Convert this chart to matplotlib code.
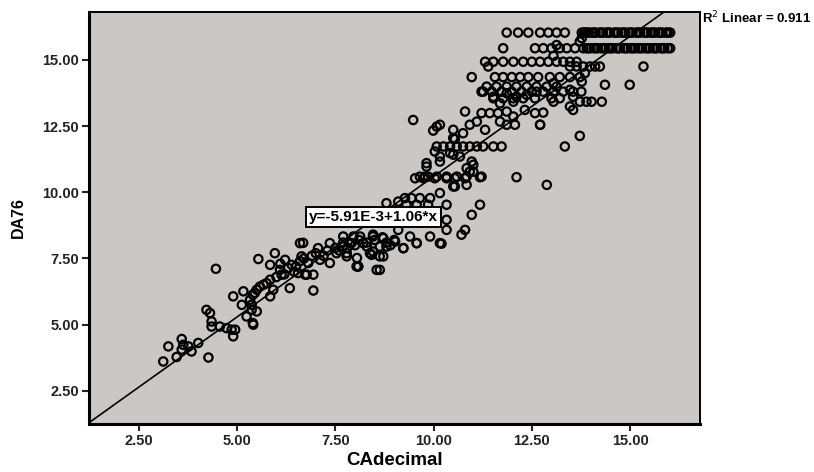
import numpy as np
import matplotlib
matplotlib.use("Agg")
import matplotlib.pyplot as plt

plt.rcParams['font.family'] = ['Liberation Sans', 'DejaVu Sans']

# CAdecimal values (x) and DA76 values (y)
lower_x = [3.12, 3.25, 3.46, 3.59, 3.63, 3.59, 3.76, 3.84, 4.01, 4.27, 4.22, 4.31, 4.35, 4.35,
           4.56, 4.73, 4.86, 4.95, 4.90, 4.90, 5.16, 5.12, 5.33, 5.24, 5.41, 5.37, 5.45, 4.46]
lower_y = [3.61, 4.18, 3.78, 4.46, 4.24, 4.06, 4.18, 3.99, 4.31, 3.76, 5.56, 5.44, 5.12, 4.93,
           4.93, 4.87, 4.81, 4.81, 4.56, 6.07, 6.26, 5.75, 5.94, 5.31, 5.00, 5.56, 6.20, 7.11]

mid_x = [5.40, 5.54, 5.84, 5.96, 6.09, 6.22, 6.13, 6.30, 6.39, 6.60, 6.64, 6.73, 6.94, 6.81,
         6.94, 6.34, 5.84, 5.67, 5.50, 5.92, 5.84, 5.37, 5.50, 5.40, 7.06, 7.11, 7.36, 7.36,
         7.53, 7.70, 7.79, 7.91, 8.04, 7.96, 8.21, 8.38, 8.46, 8.55, 8.63, 5.58, 5.75, 6.68,
         6.77, 8.08, 9.57, 10.20, 9.23, 8.42, 8.63,
         6.50, 6.60, 6.70, 6.90, 7.00, 7.20, 7.30, 7.50, 7.60, 7.70, 7.80, 8.00, 8.10, 8.30,
         8.50, 8.70, 8.80, 8.90, 9.00, 6.45, 6.55, 6.20, 6.00, 6.10]
mid_y = [6.13, 7.48, 7.26, 7.70, 7.07, 7.45, 6.89, 7.14, 7.26, 8.08, 7.58, 6.89, 6.89, 7.33,
         6.29, 6.38, 6.70, 6.51, 6.32, 6.32, 6.07, 5.75, 5.50, 5.06, 7.89, 7.45, 8.08, 7.33,
         7.70, 7.95, 7.58, 8.08, 7.20, 8.33, 8.08, 7.70, 8.40, 7.07, 7.95, 6.44, 6.57, 8.09,
         6.89, 7.20, 8.08, 8.06, 7.89, 7.64, 7.58,
         7.20, 7.40, 7.50, 7.60, 7.70, 7.60, 7.80, 7.90, 7.80, 8.10, 7.90, 8.00, 8.20, 8.10,
         8.20, 8.30, 8.10, 8.00, 8.20, 7.00, 6.95, 6.90, 6.80, 7.30]

upper_x = [9.65, 9.86, 10.08, 10.33, 10.59, 10.84, 11.01, 11.22, 10.54, 10.84, 10.16,
           8.80, 9.10, 9.27, 9.44, 9.65, 9.91, 9.31, 9.57, 9.86, 10.33, 11.18, 10.97, 10.33,
           10.33, 10.80, 10.71, 9.10, 9.40, 9.57, 9.91, 10.16, 9.02, 9.23, 8.72, 8.80, 8.46,
           8.13, 7.87, 8.30, 8.46, 8.72, 8.05, 8.08, 8.63, 7.79, 7.70, 9.00, 9.30,
           9.48, 9.99, 10.16, 10.50, 10.80, 10.75, 10.54, 10.92, 11.10, 11.31, 11.22, 11.43,
           11.64, 11.86, 12.03, 11.69, 11.86, 12.07, 12.32, 12.58, 12.79, 12.71, 13.05, 11.26,
           11.52, 11.86, 12.11, 12.37, 12.62,
           10.08, 10.25, 10.42, 10.59, 10.75, 10.92, 11.10, 11.26, 11.52, 11.73,
           10.16, 10.16, 10.42, 10.67, 10.97, 9.82, 10.84, 10.92, 11.18,
           9.53, 9.74, 10.03, 10.33, 10.54, 10.80, 10.50, 12.11, 12.88,
           9.82, 10.08, 10.50, 10.03, 11.01, 9.78, 10.50]
upper_y = [10.59, 10.59, 10.59, 10.59, 10.59, 10.59, 10.78, 10.59, 10.22, 10.28, 9.97,
           9.59, 9.65, 9.78, 9.78, 9.78, 9.78, 9.53, 9.53, 9.53, 9.53, 9.53, 9.15, 8.96,
           8.58, 8.58, 8.40, 8.58, 8.33, 8.08, 8.33, 8.08, 8.14, 7.89, 8.27, 7.95, 8.33,
           8.33, 8.08, 7.95, 7.76, 7.58, 7.52, 7.20, 7.07, 7.70, 8.33, 9.20, 9.10,
           12.73, 12.33, 12.55, 12.36, 13.05, 12.23, 12.01, 12.55, 12.67, 12.36, 12.99, 12.99,
           12.99, 13.05, 12.86, 12.67, 12.55, 12.55, 13.11, 12.99, 13.01, 12.55, 13.42, 13.80,
           13.61, 13.74, 13.61, 13.68, 13.80,
           11.73, 11.73, 11.73, 11.73, 11.73, 11.73, 11.73, 11.73, 11.73, 11.73,
           11.35, 11.16, 11.48, 11.35, 11.16, 10.97, 10.91, 10.78, 10.57,
           10.53, 10.53, 10.53, 10.53, 10.53, 10.53, 10.22, 10.57, 10.28,
           11.10, 12.48, 12.05, 11.54, 11.04, 10.59, 11.42]

top_x = [11.86, 12.15, 12.41, 12.71, 12.92, 13.13, 13.34,
         11.77, 12.58, 12.79, 13.00, 13.21, 13.39, 13.60, 13.81, 13.13, 13.05,
         11.31, 11.52, 11.77, 12.03, 12.28, 12.50, 12.71, 12.92, 13.13, 13.30, 13.47, 13.64,
         11.39, 10.97,
         11.56, 11.77, 11.99, 12.20, 12.41, 12.66, 12.96, 13.21, 13.47, 13.72,
         11.35, 11.60, 11.86, 12.11, 12.37, 12.62, 12.88, 13.13,
         11.22, 11.48, 11.73, 11.99, 12.24, 12.50, 12.79, 13.05, 13.30, 13.55, 13.76,
         13.05, 11.52, 11.77, 12.03, 12.28, 12.58, 13.00, 13.21, 11.69, 12.03]
top_y = [16.03, 16.03, 16.03, 16.03, 16.03, 16.03, 16.03,
         15.44, 15.44, 15.44, 15.44, 15.44, 15.44, 15.44, 15.44, 15.56, 15.15,
         14.93, 14.93, 14.93, 14.93, 14.93, 14.93, 14.93, 14.93, 14.93, 14.93, 14.93, 14.93,
         14.75, 14.35,
         14.35, 14.35, 14.35, 14.35, 14.35, 14.35, 14.35, 14.35, 14.35, 14.35,
         13.99, 13.99, 13.99, 13.99, 13.99, 13.99, 13.99, 13.99,
         13.80, 13.80, 13.80, 13.80, 13.80, 13.80, 13.80, 13.80, 13.80, 13.80, 13.80,
         14.12, 13.55, 13.55, 13.55, 13.55, 13.55, 13.55, 13.55, 13.36, 13.42]

# the two dense rows at the top right (DA76 = 16.0 and 15.4)
row16_x = [13.77, 13.82, 13.86, 13.91, 13.95, 14.03, 14.08, 14.12, 14.22, 14.26, 14.31, 14.40,
           14.45, 14.49, 14.60, 14.64, 14.69, 14.78, 14.83, 14.88, 14.97, 15.02, 15.06, 15.16,
           15.20, 15.25, 15.35, 15.39, 15.44, 15.53, 15.58, 15.63, 15.72, 15.77, 15.82,
           15.91, 15.96, 16.02]
row15_x = [13.90, 13.94, 13.99, 14.08, 14.13, 14.18, 14.27, 14.32, 14.37, 14.46, 14.51, 14.55,
           14.65, 14.70, 14.74, 14.84, 14.88, 14.93, 15.02, 15.07, 15.12, 15.21, 15.26, 15.31,
           15.40, 15.45, 15.50, 15.59, 15.64, 15.68, 15.78, 15.83, 15.87, 15.96, 16.02]
row16_y = 16.03
row15_y = 15.44

right_x = [13.72, 13.77, 15.34, 13.47, 13.64, 13.81, 13.98, 14.11, 14.23, 13.85, 13.77,
           14.36, 14.99, 13.47, 13.55, 13.72, 13.89, 14.02, 14.28, 13.47, 13.55, 13.34,
           13.72, 12.71]
right_y = [15.69, 15.82, 14.75, 14.75, 14.75, 14.75, 14.75, 14.75, 14.75, 14.50, 14.18,
           14.06, 14.06, 13.87, 13.61, 13.42, 13.42, 13.42, 13.42, 13.24, 13.11, 11.73,
           12.13, 12.55]

intercept = -5.91e-3
slope = 1.06
r2 = 0.911

x = np.concatenate([lower_x, mid_x, upper_x, top_x, row16_x, row15_x, right_x])
y = np.concatenate([lower_y, mid_y, upper_y, top_y,
                    np.full(len(row16_x), row16_y), np.full(len(row15_x), row15_y), right_y])

fig = plt.figure(figsize=(8.14, 4.72), dpi=100)
ax = fig.add_axes([0.1093, 0.1017, 0.7507, 0.873])
ax.set_facecolor('#cbc7c4')

ax.scatter(x, y, s=36, facecolors='none', edgecolors='black', linewidths=1.6, zorder=3)

xlim = (1.23, 16.78)
ylim = (1.25, 16.81)
xx = np.array(xlim)
ax.plot(xx, intercept + slope * xx, color='black', lw=1.2, zorder=2)
ax.set_xlim(xlim)
ax.set_ylim(ylim)

ticks = [2.5, 5.0, 7.5, 10.0, 12.5, 15.0]
ax.set_xticks(ticks)
ax.set_yticks(ticks)
ax.set_xticklabels(['%.2f' % t for t in ticks], fontweight='bold', fontsize=10.5)
ax.set_yticklabels(['%.2f' % t for t in ticks], fontweight='bold', fontsize=10.5)
ax.tick_params(direction='out', length=5, width=1.5, pad=2, colors='#222222')

for side in ['left', 'bottom']:
    ax.spines[side].set_linewidth(2.2)
for side in ['top', 'right']:
    ax.spines[side].set_linewidth(1.4)

ax.set_xlabel('CAdecimal', fontweight='bold', fontsize=13.5, labelpad=3)
ax.set_ylabel('DA76', fontweight='bold', fontsize=11.5, labelpad=12)

ax.text(8.48, 9.07, 'y=-5.91E-3+1.06*x', ha='center', va='center', fontsize=11,
        fontweight='bold', zorder=5,
        bbox=dict(boxstyle='square,pad=0.2', facecolor='white', edgecolor='black', lw=1.4))

ax.text(1.004, 0.985, 'R$^2$ Linear = %.3f' % r2, transform=ax.transAxes, ha='left',
        va='center', fontsize=9.5, fontweight='bold')

fig.savefig('out.png', dpi=100)
